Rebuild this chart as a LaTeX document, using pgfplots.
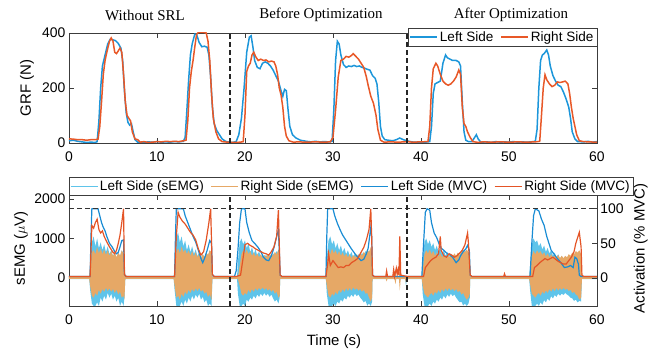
\documentclass[border=0pt]{standalone}
\usepackage{fontspec}
\setmainfont{Liberation Sans}
\newfontfamily\titlefont{Liberation Serif}
\usepackage{pgfplots}
\usepackage{pgfplotstable}
\pgfplotsset{compat=1.18}
\usepgfplotslibrary{fillbetween}

\definecolor{grfblue}{RGB}{28,150,218}
\definecolor{grfred}{RGB}{232,88,40}
\definecolor{mvcblue}{RGB}{25,140,212}
\definecolor{mvcred}{RGB}{228,84,38}
\definecolor{semgcyan}{RGB}{95,196,234}
\definecolor{semgtan}{RGB}{230,168,102}
\definecolor{axgray}{RGB}{60,60,60}

\pgfplotstableread{
t v
0 8
0.5 10
1 6
1.5 4
2 2
2.5 3
3 2
3.2 5
3.4 80
3.6 200
3.8 280
4.1 320
4.4 360
4.7 378
5.0 375
5.3 372
5.6 362
5.9 345
6.1 300
6.3 190
6.5 110
6.7 75
6.9 65
7.1 70
7.3 40
7.5 12
7.8 3
8.5 2
9 4
9.5 3
10 5
10.5 3
11 4
11.5 3
12 5
12.5 4
13 6
13.2 20
13.4 120
13.6 230
13.8 320
14.0 360
14.3 396
14.5 395
14.8 365
15.1 350
15.4 352
15.7 348
15.9 320
16.1 240
16.3 130
16.5 70
16.8 45
17.1 30
17.4 15
17.8 6
18.2 3
18.6 2
19.0 5
19.3 30
19.6 90
19.9 200
20.2 330
20.5 385
20.7 390
20.9 350
21.1 300
21.4 275
21.7 270
22.0 290
22.3 295
22.6 290
22.9 280
23.2 265
23.5 245
23.8 225
24.1 190
24.3 170
24.5 195
24.7 190
24.9 120
25.1 60
25.4 30
25.8 18
26.3 10
27 6
27.5 4
28 6
28.5 4
29 5
29.5 4
29.9 6
30.1 120
30.3 300
30.5 370
30.7 360
30.9 320
31.2 285
31.5 275
31.8 280
32.1 278
32.4 282
32.7 278
33.0 280
33.3 275
33.6 272
33.9 268
34.2 265
34.5 245
34.8 235
35.0 215
35.2 150
35.4 60
35.6 25
35.9 12
36.3 10
36.8 8
37.2 12
37.6 18
38.0 12
38.4 8
38.8 5
39.2 3
39.6 3
40 2
40.5 3
41.0 5
41.2 60
41.4 180
41.6 215
41.9 220
42.2 225
42.5 290
42.8 320
43.0 310
43.3 305
43.6 300
44.0 300
44.3 295
44.5 280
44.7 150
44.9 40
45.1 10
45.4 5
45.8 5
46.1 20
46.3 30
46.5 15
46.8 3
47.5 4
48 2
48.5 5
49 3
49.5 4
50 3
50.5 5
51 3
51.5 4
52 3
52.5 4
53.0 6
53.2 50
53.4 200
53.6 300
53.8 320
54.0 325
54.3 338
54.5 320
54.7 280
55.0 245
55.3 225
55.6 210
55.9 205
56.2 185
56.5 160
56.8 130
57.0 90
57.2 40
57.5 15
57.8 5
58.5 4
59 6
59.5 3
60 5
}\grfL

\pgfplotstableread{
t v
0 15
0.5 14
1 12
1.5 12
2 10
2.5 12
3 12
3.3 14
3.5 60
3.7 150
3.9 250
4.1 300
4.3 330
4.6 370
4.8 382
5.0 370
5.2 330
5.4 325
5.6 335
5.8 345
6.0 330
6.2 250
6.4 150
6.6 100
6.8 90
7.0 80
7.2 40
7.5 15
7.8 12
8.1 3
8.5 5
9 2
9.5 3
10 5
10.5 4
11 6
11.5 5
12 6
12.5 5
13 8
13.3 10
13.5 80
13.7 200
13.9 260
14.1 300
14.3 350
14.5 395
14.7 402
15.0 402
15.3 402
15.6 400
15.8 370
16.0 300
16.2 180
16.4 90
16.7 40
17.0 15
17.4 5
18 3
18.5 2
19 2
19.5 3
19.8 5
20.0 100
20.2 260
20.4 280
20.6 290
20.8 320
21.0 330
21.2 315
21.5 300
21.8 305
22.1 300
22.4 302
22.7 295
23.0 298
23.3 295
23.5 280
23.7 250
23.9 200
24.1 175
24.3 130
24.5 60
24.7 25
25.0 8
25.5 3
26 4
27 3
28 4
29 3
29.7 4
30.0 20
30.3 120
30.6 240
30.9 300
31.2 305
31.5 315
31.8 312
32.1 318
32.3 325
32.6 315
32.9 305
33.2 290
33.5 275
33.8 240
34.0 210
34.3 170
34.6 145
34.9 100
35.1 50
35.4 10
35.8 3
36.5 4
37.5 3
38.5 5
39 3
40 4
40.8 5
41.0 60
41.2 200
41.4 270
41.7 290
41.9 280
42.2 250
42.5 225
42.8 215
43.1 210
43.4 215
43.7 225
44.0 240
44.3 265
44.5 250
44.7 130
44.9 70
45.1 60
45.3 40
45.6 20
45.9 5
46.5 2
47 4
48 3
49 4
50 3
51 4
52 3
53 4
53.5 6
53.7 100
53.9 200
54.1 248
54.3 230
54.6 215
54.9 205
55.2 210
55.5 222
55.8 220
56.1 222
56.4 225
56.7 215
56.9 180
57.1 130
57.3 90
57.5 60
57.7 30
58.0 8
58.5 5
59 4
60 3
}\grfR

\pgfplotstableread{
t cu cl tu tl
0 40 -30 25 -25
2.3 40 -30 25 -25
2.4 300 -300 200 -200
2.6 900 -650 650 -450
2.8 1050 -710 700 -500
3.0 800 -710 600 -380
3.2 1000 -620 780 -450
3.4 750 -710 620 -300
3.6 900 -500 750 -400
3.8 700 -600 600 -280
4.0 850 -450 720 -350
4.2 650 -550 580 -250
4.4 800 -380 700 -330
4.6 600 -500 560 -260
4.8 700 -400 680 -350
5.0 550 -550 550 -280
5.2 650 -450 650 -380
5.4 500 -600 520 -300
5.6 650 -500 640 -420
5.8 550 -710 560 -350
6.0 700 -600 700 -500
6.2 600 -710 600 -450
6.3 500 -500 750 -550
6.4 40 -30 25 -25
11.9 40 -30 25 -25
12.0 300 -300 200 -200
12.2 1000 -710 650 -500
12.4 1150 -710 750 -450
12.6 900 -710 620 -550
12.8 1050 -600 800 -400
13.0 800 -710 650 -480
13.2 950 -550 720 -350
13.4 700 -650 600 -420
13.6 850 -500 700 -300
13.8 650 -600 560 -380
14.0 800 -450 680 -280
14.2 600 -550 540 -350
14.4 720 -420 650 -260
14.6 550 -500 520 -330
14.8 650 -400 620 -250
15.0 500 -550 500 -350
15.2 600 -480 600 -300
15.4 520 -620 520 -400
15.6 650 -550 640 -350
15.8 560 -710 580 -480
16.0 700 -650 700 -420
16.2 600 -710 650 -550
16.3 40 -30 25 -25
19.1 40 -30 25 -25
19.2 400 -400 25 -25
19.4 900 -710 300 -200
19.6 1000 -710 600 -400
19.8 850 -650 700 -450
20.0 950 -710 620 -380
20.2 750 -550 720 -420
20.4 880 -600 600 -300
20.6 650 -500 680 -380
20.8 780 -550 560 -280
21.0 600 -450 650 -350
21.2 720 -520 540 -260
21.4 560 -420 620 -320
21.6 680 -480 520 -250
21.8 520 -400 600 -300
22.0 620 -460 500 -240
22.2 500 -380 580 -300
22.4 600 -450 520 -260
22.6 480 -400 600 -320
22.8 580 -480 540 -280
23.0 500 -420 620 -350
23.2 620 -520 560 -300
23.4 560 -600 660 -400
23.6 680 -550 600 -350
23.8 600 -650 720 -500
23.95 500 -500 650 -450
24.0 40 -30 25 -25
29.2 40 -30 25 -25
29.3 500 -400 300 -200
29.5 950 -710 700 -450
29.7 1050 -710 600 -500
29.9 850 -710 750 -400
30.1 950 -650 620 -450
30.3 750 -710 700 -350
30.5 880 -600 580 -420
30.7 700 -650 680 -300
30.9 820 -550 560 -380
31.1 650 -600 650 -280
31.3 760 -500 540 -350
31.5 600 -550 620 -260
31.7 700 -450 520 -330
31.9 560 -500 600 -250
32.1 660 -420 500 -320
32.3 520 -480 580 -240
32.5 620 -400 520 -300
32.7 500 -460 600 -260
32.9 600 -420 540 -320
33.1 520 -500 620 -280
33.3 640 -550 560 -350
33.5 560 -620 660 -300
33.7 680 -580 600 -400
33.9 600 -700 720 -380
34.1 700 -650 650 -500
34.3 620 -710 780 -600
34.45 500 -600 600 -500
34.5 40 -30 25 -25
36.0 40 -30 25 -25
36.1 40 -30 130 -90
36.2 40 -30 25 -25
37.0 40 -30 25 -25
37.1 40 -40 140 -160
37.2 40 -30 25 -25
37.5 40 -30 25 -25
37.6 40 -60 250 -320
37.7 40 -30 25 -25
38.2 40 -30 25 -25
38.3 40 -200 25 -120
38.4 40 -30 25 -25
40.1 40 -30 25 -25
40.2 400 -400 200 -200
40.4 900 -710 600 -400
40.6 1000 -710 700 -450
40.8 850 -710 620 -500
41.0 950 -650 720 -420
41.2 780 -710 600 -380
41.4 880 -600 680 -450
41.6 700 -650 560 -350
41.8 820 -550 650 -400
42.0 650 -600 540 -300
42.2 760 -500 620 -380
42.4 600 -550 520 -280
42.6 700 -450 600 -350
42.8 560 -520 500 -260
43.0 660 -420 580 -330
43.2 520 -480 520 -250
43.4 620 -400 600 -320
43.6 500 -460 540 -270
43.8 600 -420 620 -330
44.0 520 -500 560 -280
44.2 640 -560 640 -360
44.4 560 -620 580 -320
44.6 680 -600 660 -420
44.8 600 -700 700 -380
45.0 700 -650 650 -480
45.2 620 -710 720 -550
45.4 650 -650 650 -500
45.55 500 -500 550 -400
45.6 40 -30 25 -25
52.3 40 -30 25 -25
52.4 300 -300 150 -150
52.6 850 -710 550 -400
52.8 1000 -710 680 -450
53.0 900 -710 600 -500
53.2 950 -650 700 -420
53.4 800 -710 620 -380
53.6 880 -620 680 -450
53.8 720 -680 580 -350
54.0 820 -560 650 -400
54.2 660 -620 540 -320
54.4 760 -520 620 -380
54.6 620 -580 520 -280
54.8 700 -460 600 -350
55.0 560 -520 500 -260
55.2 640 -430 580 -330
55.4 520 -480 520 -250
55.6 600 -400 580 -320
55.8 480 -450 500 -260
56.0 560 -400 560 -300
56.2 460 -430 500 -250
56.4 540 -380 560 -300
56.6 480 -420 520 -270
56.8 560 -450 600 -330
57.0 500 -500 560 -300
57.2 580 -520 640 -380
57.4 520 -580 600 -350
57.6 600 -550 680 -420
57.8 540 -620 640 -450
58.0 620 -580 700 -550
58.2 560 -600 600 -500
58.3 40 -30 25 -25
60 40 -30 25 -25
}\raw

\pgfplotstableread{
t v
0 2
2.4 2
2.5 60
2.6 100
3.3 100
3.5 90
3.7 80
3.9 73
4.1 68
4.3 60
4.6 50
4.9 45
5.2 38
5.4 35
5.6 37
5.8 45
6.0 54
6.2 55
6.3 5
6.5 2
12.0 2
12.1 60
12.2 100
13.0 100
13.2 90
13.5 80
13.8 70
14.1 60
14.4 52
14.7 40
15.0 28
15.2 22
15.4 28
15.7 40
16.0 54
16.2 50
16.3 5
16.5 2
18.8 2
19.0 10
19.2 40
19.4 80
19.6 100
20.0 100
20.2 80
20.5 65
20.8 54
21.1 50
21.5 44
21.8 38
22.1 30
22.4 26
22.7 25
23.0 32
23.3 44
23.6 60
23.8 69
23.9 40
24.0 4
24.2 2
29.2 2
29.3 60
29.4 100
30.0 100
30.2 90
30.5 79
30.8 70
31.1 62
31.5 54
31.8 48
32.1 42
32.5 35
32.8 30
33.2 25
33.5 27
33.8 35
34.0 43
34.3 73
34.4 60
34.5 4
34.7 2
40.1 2
40.3 50
40.5 95
40.7 100
41.0 98
41.2 80
41.5 65
41.8 58
42.1 48
42.3 43
42.6 40
43.0 35
43.3 33
43.6 30
44.0 22
44.3 26
44.5 32
44.8 38
45.1 42
45.3 47
45.5 40
45.6 4
45.8 2
52.4 2
52.6 50
52.8 90
53.0 100
53.4 97
53.7 85
54.0 76
54.3 60
54.6 48
54.8 40
55.1 35
55.5 28
55.9 22
56.3 15
56.7 16
57.0 18
57.3 15
57.5 30
57.7 28
57.9 20
58.0 4
58.2 2
60 2
}\mvcL

\pgfplotstableread{
t v
0 2
2.4 2
2.5 40
2.6 76
2.8 72
3.0 80
3.2 85
3.4 70
3.6 65
3.8 68
4.0 60
4.3 52
4.6 45
5.0 37
5.2 35
5.4 40
5.6 50
5.8 62
6.0 80
6.2 100
6.3 5
6.5 2
12.0 2
12.2 60
12.4 95
12.6 88
12.9 82
13.2 78
13.5 72
13.8 66
14.1 62
14.4 55
14.7 42
15.0 33
15.3 38
15.6 55
15.9 80
16.1 100
16.3 5
16.5 2
19.0 2
19.5 4
19.8 30
20.0 48
20.3 50
20.6 47
20.9 45
21.2 42
21.5 40
21.8 38
22.1 36
22.4 35
22.7 33
23.0 38
23.3 45
23.6 60
23.8 98
23.9 50
24.0 4
24.2 2
29.2 2
29.4 20
29.5 35
29.7 18
30.0 25
30.3 20
30.6 15
30.9 16
31.2 15
31.5 18
31.8 18
32.1 22
32.5 25
32.8 28
33.1 35
33.5 44
33.8 55
34.1 70
34.3 100
34.4 60
34.5 4
34.7 2
36.0 2
36.1 10
36.2 2
36.8 2
36.9 12
37.0 2
37.2 14
37.3 5
37.4 12
37.5 4
37.6 60
37.7 4
38.5 2
40.3 2
40.5 15
40.8 20
41.1 25
41.4 28
41.7 30
42.0 35
42.2 60
42.3 40
42.6 32
42.9 30
43.2 35
43.5 33
43.8 30
44.1 32
44.4 36
44.7 40
45.0 48
45.3 65
45.4 50
45.6 4
45.8 2
49.4 2
49.5 6
49.6 2
52.7 2
52.9 15
53.2 18
53.5 22
53.8 25
54.1 28
54.4 26
54.7 28
55.0 30
55.3 27
55.6 24
55.9 22
56.2 20
56.5 20
56.8 25
57.1 30
57.4 38
57.6 50
57.8 58
58.0 66
58.2 45
58.3 4
58.5 2
60 2
}\mvcR

\pgfplotsset{
  base/.style={
    scale only axis, width=528bp,
    xmin=0, xmax=60, xtick={0,10,...,60},
    tick label style={font=\fontsize{14}{16}\selectfont},
    xticklabel style={yshift=-5bp},
    label style={font=\fontsize{15}{18}\selectfont},
    /pgf/number format/assume math mode=true,
    /pgf/number format/1000 sep={},
    scaled ticks=false,
    axis line style={draw=axgray, line width=0.6bp},
    tick style={draw=axgray, line width=0.6bp},
    major tick length=5bp, tick align=inside,
  }
}

\begin{document}
\begin{tikzpicture}
\path (0,0) rectangle (651bp,354bp);

% ---------- top: GRF ----------
\begin{axis}[base,
  at={(69bp,211bp)}, anchor=south west, height=110bp,
  ymin=0, ymax=400, ytick={0,200,400},
  ylabel={GRF (N)},
  ylabel style={at={(axis description cs:-0.0795,0.5)}, anchor=center},
  legend style={at={(1,1)}, anchor=north east, yshift=5bp,
    draw=axgray, line width=0.6bp, font=\fontsize{13.6}{15}\selectfont,
    inner sep=1.5bp, outer sep=0pt},
  legend columns=2,
  legend image code/.code={\draw[#1] (0bp,0bp) -- (27bp,0bp);},
  /tikz/every even column/.append style={column sep=5bp},
]
\addplot[grfblue, line width=1.5bp] table[x=t,y=v]{\grfL};
\addlegendentry{Left Side}
\addplot[grfred, line width=1.5bp] table[x=t,y=v]{\grfR};
\addlegendentry{Right Side}
\addplot[black!85, line width=1.3bp, dash pattern=on 5bp off 3bp, forget plot] coordinates {(18.3,0) (18.3,400)};
\addplot[black!85, line width=1.3bp, dash pattern=on 5bp off 3bp, forget plot] coordinates {(38.4,0) (38.4,400)};
\end{axis}

% ---------- bottom: raw sEMG (left axis) ----------
\begin{axis}[base,
  at={(69bp,48bp)}, anchor=south west, height=111bp,
  ymin=-710, ymax=2100, ytick={0,1000,2000}, ytick pos=left,
  xtick pos=both, xticklabel pos=bottom,
  ylabel={sEMG ($\mu$V)},
  ylabel style={at={(axis description cs:-0.0909,0.52)}, anchor=center},
  xlabel={Time (s)},
  xlabel style={at={(axis description cs:0.502,-0.324)}, anchor=center},
]
\addplot[draw=none, name path=cu, forget plot] table[x=t,y=cu]{\raw};
\addplot[draw=none, name path=cl, forget plot] table[x=t,y=cl]{\raw};
\addplot[semgcyan, forget plot] fill between[of=cu and cl];
\addplot[draw=none, name path=tu, forget plot] table[x=t,y=tu]{\raw};
\addplot[draw=none, name path=tl, forget plot] table[x=t,y=tl]{\raw};
\addplot[semgtan, forget plot] fill between[of=tu and tl];
\end{axis}

% ---------- bottom: MVC activation (right axis) ----------
\begin{axis}[base,
  at={(69bp,48bp)}, anchor=south west, height=111bp,
  ymin=-40.57, ymax=120, ytick={0,50,100},
  axis x line=none, axis y line*=right, y axis line style={-},
  ylabel={Activation (\% MVC)},
  ylabel style={at={(axis description cs:1.083,0.52)}, anchor=center, rotate=0},
  legend style={at={(0,1)}, anchor=south west,
    draw=axgray, line width=0.6bp, font=\fontsize{13.6}{15}\selectfont,
    inner sep=1.2bp, outer sep=0pt},
  legend columns=4,
  legend image code/.code={\draw[#1] (0bp,0bp) -- (27bp,0bp);},
  /tikz/every even column/.append style={column sep=5bp},
]
\addlegendimage{semgcyan, line width=0.8bp}
\addlegendentry{Left Side (sEMG)}
\addlegendimage{semgtan, line width=0.8bp}
\addlegendentry{Right Side (sEMG)}
\addplot[mvcblue, line width=1.2bp] table[x=t,y=v]{\mvcL};
\addlegendentry{Left Side (MVC)}
\addplot[mvcred, line width=1.2bp] table[x=t,y=v]{\mvcR};
\addlegendentry{Right Side (MVC)}
\addplot[black!80, line width=0.9bp, dash pattern=on 5bp off 3bp, forget plot] coordinates {(0,100) (60,100)};
\addplot[black!85, line width=1.3bp, dash pattern=on 5bp off 3bp, forget plot] coordinates {(18.3,-40.57) (18.3,120)};
\addplot[black!85, line width=1.3bp, dash pattern=on 5bp off 3bp, forget plot] coordinates {(38.4,-40.57) (38.4,120)};
\end{axis}

\node[font=\titlefont\fontsize{15}{18}\selectfont] at (145bp,339bp) {Without SRL};
\node[font=\titlefont\fontsize{15}{18}\selectfont] at (321bp,339bp) {Before Optimization};
\node[font=\titlefont\fontsize{15}{18}\selectfont] at (511bp,339bp) {After Optimization};
\end{tikzpicture}
\end{document}
